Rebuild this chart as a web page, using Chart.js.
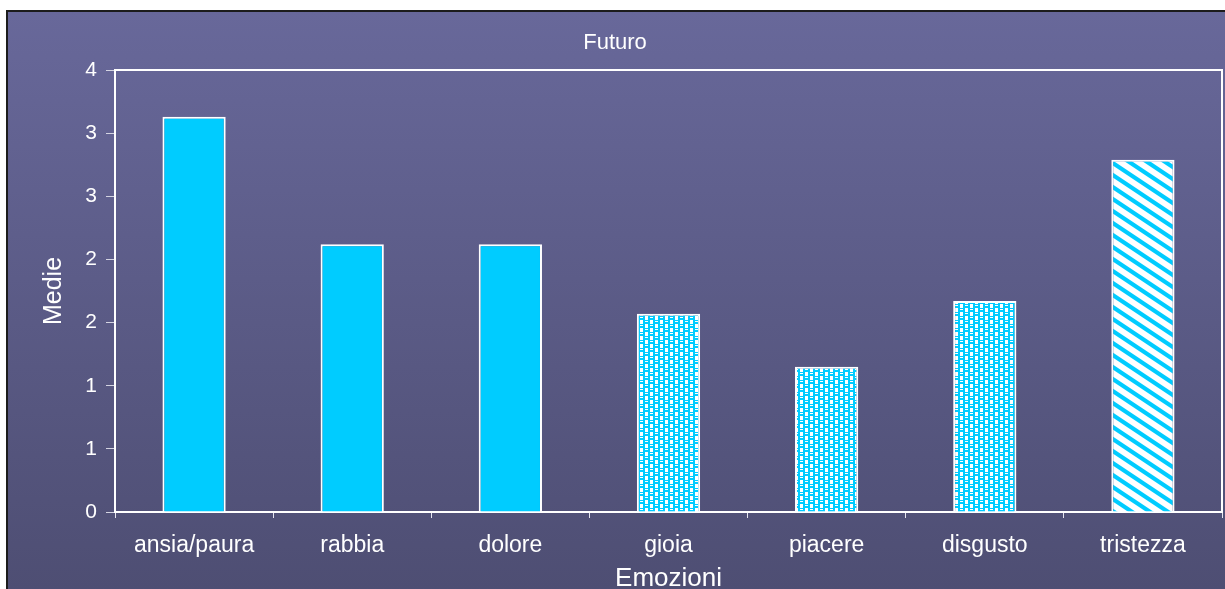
<!DOCTYPE html>
<html>
<head>
<meta charset="utf-8">
<title>Futuro</title>
<script src="https://cdn.jsdelivr.net/npm/chart.js@4.4.1/dist/chart.umd.min.js"></script>
<style>
  html, body { margin: 0; padding: 0; background: #ffffff; overflow: hidden; }
  #cornice { position: absolute; left: 6px; top: 10px; border-left: 2px solid #1c1c1c; border-top: 2px solid #1c1c1c; }
  #myChart { display: block; }
</style>
</head>
<body>
<div id="cornice"><canvas id="myChart" width="1217" height="577"></canvas></div>
<script>
const emozioni = ["ansia/paura", "rabbia", "dolore", "gioia", "piacere", "disgusto", "tristezza"];
const medie = [3.13, 2.12, 2.12, 1.57, 1.15, 1.67, 2.79];
const riempimenti = ["pieno", "pieno", "pieno", "pallini", "pallini", "pallini", "righe"];
const etichetteY = ["0", "1", "1", "2", "2", "3", "3", "4"];

const CIANO = "#00ccff";
const FONT = "'Liberation Sans', Arial, sans-serif";

const ctx = document.getElementById("myChart").getContext("2d");

// motivo a pallini (gioia, piacere, disgusto)
function motivoPallini() {
  const c = document.createElement("canvas");
  c.width = 10; c.height = 8;
  const g = c.getContext("2d");
  g.fillStyle = "#ffffff";
  g.fillRect(0, 0, 10, 8);
  g.fillStyle = CIANO;
  g.fillRect(0, 0, 7, 4);
  g.fillRect(5, 4, 5, 4);
  g.fillRect(0, 4, 2, 4);
  g.fillStyle = "#ffffff";
  g.fillRect(2, 1, 3, 1);
  g.fillRect(7, 5, 3, 1);
  return ctx.createPattern(c, "repeat");
}

// righe diagonali (tristezza)
function motivoRighe() {
  const c = document.createElement("canvas");
  c.width = 18; c.height = 12;
  const g = c.getContext("2d");
  g.fillStyle = "#ffffff";
  g.fillRect(0, 0, 18, 12);
  g.fillStyle = CIANO;
  for (const o of [-12, 0, 12]) {
    g.beginPath();
    g.moveTo(0, o);
    g.lineTo(18, o + 12);
    g.lineTo(18, o + 17);
    g.lineTo(0, o + 5);
    g.closePath();
    g.fill();
  }
  return ctx.createPattern(c, "repeat");
}

const motivi = { pieno: CIANO, pallini: motivoPallini(), righe: motivoRighe() };
const coloriBarre = riempimenti.map(r => motivi[r]);

const sfondo = {
  id: "sfondo",
  beforeDraw(chart) {
    const { ctx, width, height } = chart;
    const grad = ctx.createLinearGradient(0, 0, 0, height);
    grad.addColorStop(0, "#68689a");
    grad.addColorStop(1, "#4e4e73");
    ctx.save();
    ctx.fillStyle = grad;
    ctx.fillRect(0, 0, width, height);
    ctx.restore();
  }
};

// lati superiore e destro del riquadro del grafico
const riquadro = {
  id: "riquadro",
  afterDraw(chart) {
    const { ctx, chartArea: a } = chart;
    ctx.save();
    ctx.strokeStyle = "#ffffff";
    ctx.lineWidth = 2;
    ctx.beginPath();
    ctx.moveTo(a.left, a.top);
    ctx.lineTo(a.right, a.top);
    ctx.lineTo(a.right, a.bottom);
    ctx.stroke();
    ctx.restore();
  }
};

const config = {
  type: "bar",
  data: {
    labels: emozioni,
    datasets: [{
      label: "Medie",
      data: medie,
      backgroundColor: coloriBarre,
      borderColor: "#ffffff",
      borderWidth: 2,
      barPercentage: 0.4,
      categoryPercentage: 1
    }]
  },
  options: {
    responsive: false,
    animation: false,
    devicePixelRatio: 1,
    layout: { padding: { left: 0, right: 3, top: 0, bottom: 0 } },
    plugins: {
      legend: { display: false },
      tooltip: { enabled: false },
      title: {
        display: true,
        text: "Futuro",
        color: "#ffffff",
        font: { family: FONT, size: 22, weight: "normal" },
        padding: { top: 18, bottom: 13.6 }
      }
    },
    scales: {
      x: {
        offset: true,
        grid: { drawOnChartArea: false, drawTicks: true, tickLength: 6, color: "#e6e6f0", offset: true },
        border: { display: true, color: "#ffffff", width: 2 },
        ticks: { color: "#ffffff", font: { family: FONT, size: 23 }, padding: 14, maxRotation: 0, autoSkip: false },
        title: {
          display: true,
          text: "Emozioni",
          color: "#ffffff",
          font: { family: FONT, size: 26, lineHeight: 1 },
          padding: { top: 0, bottom: -3 }
        },
        afterFit(scale) { scale.height = 77; }
      },
      y: {
        min: 0,
        max: 3.5,
        grid: { drawOnChartArea: false, drawTicks: true, tickLength: 9, color: "#d4d4e2" },
        border: { display: true, color: "#ffffff", width: 2 },
        ticks: {
          stepSize: 0.5,
          color: "#ffffff",
          font: { family: FONT, size: 21 },
          padding: 9,
          callback: (value, index) => etichetteY[index]
        },
        title: {
          display: true,
          text: "Medie",
          color: "#ffffff",
          font: { family: FONT, size: 25, lineHeight: 1.2 },
          padding: { top: 31, bottom: 0 }
        },
        afterFit(scale) { scale.width = 107; }
      }
    }
  },
  plugins: [sfondo, riquadro]
};

const myChart = new Chart(ctx, config);
</script>
</body>
</html>
